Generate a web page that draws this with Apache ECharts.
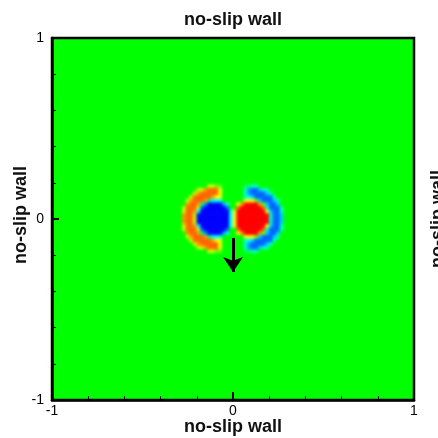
<!DOCTYPE html>
<html><head><meta charset="utf-8">
<script src="https://cdn.jsdelivr.net/npm/echarts@6/dist/echarts.min.js"></script>
<style>html,body{margin:0;padding:0;background:#fff}#c{width:438px;height:438px}</style>
</head><body><div id="c"></div>
<script>
// axis ticks
const xTicks = [-1, 0, 1];
const yTicks = [-1, 0, 1];
// cell centres of the contour field (data units)
const xCenters = [-0.33,-0.31,-0.29,-0.27,-0.25,-0.23,-0.21,-0.19,-0.17,-0.15,-0.13,-0.11,-0.09,-0.07,-0.05,-0.03,-0.01,
                   0.01, 0.03, 0.05, 0.07, 0.09, 0.11, 0.13, 0.15, 0.17, 0.19, 0.21, 0.23, 0.25, 0.27, 0.29, 0.31, 0.33];
const yCenters = [0.20,0.18,0.16,0.14,0.12,0.10,0.08,0.06,0.04,0.02,0.00,-0.02,-0.04,-0.06,-0.08,-0.10,-0.12,-0.14,-0.16,-0.18,-0.20];
// level code -> value
const levelChars  = "abcdefghijklmnopqrstu";
const levelValues = [-1,-0.9,-0.8,-0.7,-0.6,-0.5,-0.4,-0.3,-0.2,-0.1,0,0.1,0.2,0.3,0.4,0.5,0.6,0.7,0.8,0.9,1];
// field, one string per row (top to bottom), one char per cell
const fieldRows = [
  "kkkkkkkkkkkkkkkkkkkkkkkkkkkkkkkkkk",
  "kkkkkkkkkkoommkkkkkkiiggkkkkkkkkkk",
  "kkkkkkkoorssspkkkkkkgdcceggkkkkkkk",
  "kkkkkkorssssspkkkkkkgdccccegkkkkkk",
  "kkkkkosssssrppkkkkkkgfecccccgkkkkk",
  "kkkkorsssrifffkkkkkkpppmecccegkkkk",
  "kkkkrssridaaaadfkkpruuuurmeccekkkk",
  "kkkosssocaaaaaackksuuuuuusgcccgkkk",
  "kkkossrfaaaaaaaafpuuuuuuuupeccgkkk",
  "kkkrssoaaaaaaaaafpuuuuuuuuugccekkk",
  "kkkrssoaaaaaaaaafpuuuuuuuuugccekkk",
  "kkkrssoaaaaaaaaafpuuuuuuuuugccekkk",
  "kkkossrfaaaaaaaafpuuuuuuuupeccgkkk",
  "kkkosssocaaaaaackksuuuuuusgcccgkkk",
  "kkkkrssridaaaadfkkpruuuurmeccekkkk",
  "kkkkorsssrifffkkkkkkpppmecccegkkkk",
  "kkkkkosssssrppkkkkkkgfecccccgkkkkk",
  "kkkkkkorssssspkkkkkkgdccccegkkkkkk",
  "kkkkkkkoorssspkkkkkkgdcceggkkkkkkk",
  "kkkkkkkkkkoommkkkkkkiiggkkkkkkkkkk",
  "kkkkkkkkkkkkkkkkkkkkkkkkkkkkkkkkkk"
];
// velocity arrow (start, end)
const arrowStart = [0, -0.105];
const arrowEnd   = [0, -0.293];
const wallLabel = "no-slip wall";

const cellHalf = 0.01;
const fieldData = [];
fieldRows.forEach(function (row, r) {
  for (let c = 0; c < row.length; c++) {
    fieldData.push([xCenters[c], yCenters[r], levelValues[levelChars.indexOf(row[c])]]);
  }
});

const chart = echarts.init(document.getElementById('c'), null, {renderer: 'canvas'});
const FONT = '"Liberation Sans", Arial, sans-serif';
chart.setOption({
  animation: false,
  backgroundColor: '#ffffff',
  grid: {left: 52, right: 24, top: 38, bottom: 38, show: true,
         backgroundColor: '#00ff00', borderColor: '#000', borderWidth: 2.5},
  xAxis: {
    type: 'value', min: xTicks[0], max: xTicks[2], interval: 1,
    axisLine: {show: true, onZero: false, lineStyle: {color: '#000', width: 2.5}},
    axisTick: {show: true, inside: true, length: 8, lineStyle: {color: '#000', width: 2}},
    minorTick: {show: true, splitNumber: 5, length: 4, lineStyle: {color: '#000', width: 1}},
    splitLine: {show: false},
    axisLabel: {color: '#000', fontSize: 14, fontFamily: FONT, margin: 4,
                formatter: function (v) { return xTicks.indexOf(v) >= 0 ? String(v) : ''; }}
  },
  yAxis: {
    type: 'value', min: yTicks[0], max: yTicks[2], interval: 1,
    axisLine: {show: true, onZero: false, lineStyle: {color: '#000', width: 2.5}},
    axisTick: {show: true, inside: true, length: 7, lineStyle: {color: '#000', width: 2}},
    minorTick: {show: true, splitNumber: 5, length: 4, lineStyle: {color: '#000', width: 1}},
    splitLine: {show: false},
    axisLabel: {color: '#000', fontSize: 14, fontFamily: FONT, margin: 8,
                formatter: function (v) { return yTicks.indexOf(v) >= 0 ? String(v) : ''; }}
  },
  visualMap: {
    type: 'continuous', show: false, min: -1, max: 1, dimension: 2, seriesIndex: 0,
    inRange: {color: ['#0000ff', '#00ffff', '#00ff00', '#ffff00', '#ff0000']}
  },
  series: [
    {
      type: 'custom', coordinateSystem: 'cartesian2d', silent: true, zlevel: 1,
      data: fieldData,
      encode: {x: 0, y: 1},
      renderItem: function (params, api) {
        const x = api.value(0), y = api.value(1);
        const p0 = api.coord([x - cellHalf, y + cellHalf]);
        const p1 = api.coord([x + cellHalf, y - cellHalf]);
        return {
          type: 'rect',
          shape: {x: p0[0] - 0.3, y: p0[1] - 0.3, width: p1[0] - p0[0] + 0.6, height: p1[1] - p0[1] + 0.6},
          style: {fill: api.visual('color')}
        };
      }
    },
    {
      type: 'lines', coordinateSystem: 'cartesian2d', silent: true, zlevel: 2,
      symbol: ['none', 'arrow'], symbolSize: 15,
      lineStyle: {color: '#000', width: 3, opacity: 1},
      data: [{coords: [arrowStart, arrowEnd]}]
    }
  ],
  graphic: [
    {type: 'text', x: 233, y: 20, style: {text: wallLabel, font: 'bold 18px ' + FONT, fill: '#111', align: 'center', verticalAlign: 'middle'}},
    {type: 'text', x: 233, y: 427, style: {text: wallLabel, font: 'bold 18px ' + FONT, fill: '#111', align: 'center', verticalAlign: 'middle'}},
    {type: 'text', x: 21, y: 215, rotation: Math.PI / 2, style: {text: wallLabel, font: 'bold 18px ' + FONT, fill: '#111', align: 'center', verticalAlign: 'middle'}},
    {type: 'text', x: 438, y: 219, rotation: Math.PI / 2, style: {text: wallLabel, font: 'bold 18px ' + FONT, fill: '#111', align: 'center', verticalAlign: 'middle'}}
  ]
});
// soften the contour layer the way a smooth contour flood looks
function softenField() {
  const layer = chart.getZr().painter.getLayer(1);
  if (layer && layer.dom) { layer.dom.style.filter = 'blur(1.5px)'; }
}
softenField();
chart.on('finished', softenField);
</script>
</body></html>
